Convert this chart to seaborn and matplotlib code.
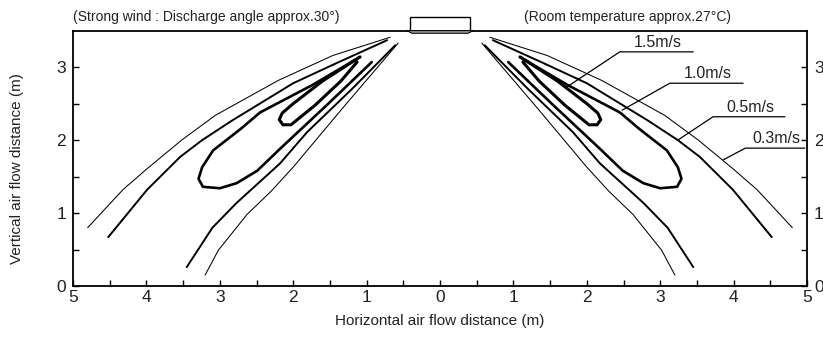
import numpy as np
import pandas as pd
import matplotlib
matplotlib.use("Agg")
import matplotlib.pyplot as plt
import seaborn as sns
from matplotlib.patches import Rectangle, Polygon

sns.set_theme(style="white")
plt.rcParams['font.family'] = ['Liberation Sans', 'DejaVu Sans']

# ---- data (right half, metres); left half is the mirror image ----
v03_outer_x = [0.68, 1.46, 2.20, 3.06, 3.52, 4.00, 4.32, 4.80]
v03_outer_y = [3.41, 3.16, 2.82, 2.34, 2.00, 1.60, 1.32, 0.80]
v03_inner_x = [0.57, 1.30, 2.00, 2.30, 2.63, 3.02, 3.20]
v03_inner_y = [3.33, 2.47, 1.63, 1.30, 0.98, 0.49, 0.15]

v05_outer_x = [0.72, 1.40, 2.00, 2.83, 3.24, 3.54, 3.99, 4.52]
v05_outer_y = [3.37, 3.06, 2.78, 2.27, 2.00, 1.77, 1.32, 0.67]
v05_inner_x = [0.61, 1.20, 1.81, 2.18, 2.77, 3.10, 3.45]
v05_inner_y = [3.30, 2.70, 2.11, 1.68, 1.14, 0.80, 0.26]

v10_x = [1.09, 1.73, 2.45, 2.72, 3.09, 3.24, 3.29, 3.23, 3.00, 2.77, 2.49, 2.18, 1.50, 0.93]
v10_y = [3.14, 2.76, 2.38, 2.15, 1.86, 1.63, 1.47, 1.36, 1.34, 1.41, 1.58, 1.88, 2.52, 3.07]

v15_x = [1.09, 1.60, 2.00, 2.15, 2.19, 2.14, 2.03, 1.70, 1.35, 1.13]
v15_y = [3.14, 2.81, 2.50, 2.37, 2.28, 2.21, 2.21, 2.48, 2.81, 3.07]

labels = ["1.5m/s", "1.0m/s", "0.5m/s", "0.3m/s"]
leader_x = [[1.73, 2.45, 3.45], [2.48, 3.13, 4.13], [3.24, 3.72, 4.70], [3.86, 4.16, 4.97]]
leader_y = [[2.73, 3.21, 3.21], [2.41, 2.78, 2.78], [2.00, 2.32, 2.32], [1.73, 1.89, 1.89]]

x_ticks = [-5, -4, -3, -2, -1, 0, 1, 2, 3, 4, 5]
x_ticklabels = ["5", "4", "3", "2", "1", "0", "1", "2", "3", "4", "5"]
y_ticks = [0, 1, 2, 3]

W, H = 823, 340
fig = plt.figure(figsize=(W / 100, H / 100), dpi=100)
ax = fig.add_axes([73 / W, 1 - 286 / H, (807 - 73) / W, (286 - 30.7) / H])

curves = [
    (v03_outer_x, v03_outer_y, 0.75),
    (v03_inner_x, v03_inner_y, 0.75),
    (v05_outer_x, v05_outer_y, 1.4),
    (v05_inner_x, v05_inner_y, 1.4),
    (v10_x, v10_y, 1.9),
    (v15_x, v15_y, 2.2),
]
for cx, cy, lw in curves:
    for sign in (1, -1):
        df = pd.DataFrame({"x": [sign * v for v in cx], "y": cy})
        sns.lineplot(data=df, x="x", y="y", sort=False, estimator=None,
                     color="black", lw=lw, ax=ax)

for lab, lx, ly in zip(labels, leader_x, leader_y):
    df = pd.DataFrame({"x": lx, "y": ly})
    sns.lineplot(data=df, x="x", y="y", sort=False, estimator=None,
                 color="black", lw=0.9, ax=ax)
    ax.text((lx[1] + lx[2]) / 2 + 0.02, ly[2] + 0.025, lab, ha="center", va="bottom",
            fontsize=11.5, color="#222222")

# indoor unit at ceiling
ax.add_patch(Rectangle((-0.41, 3.5), 0.82, 0.185, fill=False, ec="black", lw=1.0,
                       clip_on=False, zorder=5))
ax.add_patch(Polygon([(-0.45, 3.5), (0.45, 3.5), (0.38, 3.465), (-0.38, 3.465)],
                     closed=True, fc="#b0b0b0", ec="black", lw=0.8, clip_on=False, zorder=5))

ax.set_xlim(-5, 5)
ax.set_ylim(0, 3.5)
ax.set_xticks(x_ticks)
ax.set_xticklabels(x_ticklabels)
ax.set_xticks(np.arange(-4.5, 5, 1.0), minor=True)
ax.set_yticks(y_ticks)
ax.set_yticks([0.5, 1.5, 2.5], minor=True)
ax.tick_params(axis="both", which="both", direction="in", length=4, width=1.0,
               colors="black", labelsize=12.5, pad=3)
ax.tick_params(axis="y", which="both", left=True, right=True, labelleft=True,
               labelright=True, pad=5)
ax.tick_params(axis="x", which="both", bottom=True, top=False, pad=3)
for t in ax.get_xticklabels() + ax.get_yticklabels():
    t.set_color("#222222")
for s in ax.spines.values():
    s.set_color("black")
    s.set_linewidth(1.3)

ax.set_xlabel("Horizontal air flow distance (m)", fontsize=11, color="#222222", labelpad=6)
ax.set_ylabel("Vertical air flow distance (m)", fontsize=11, color="#222222")
ax.yaxis.set_label_coords((24 - 73) / 734, 0.46)

fig.text(73 / W, 1 - 17 / H, "(Strong wind : Discharge angle approx.30°)", ha="left",
         va="center", fontsize=10, color="#222222")
fig.text(524 / W, 1 - 17 / H, "(Room temperature approx.27°C)", ha="left",
         va="center", fontsize=10, color="#222222")

fig.savefig("out.png", dpi=100)
